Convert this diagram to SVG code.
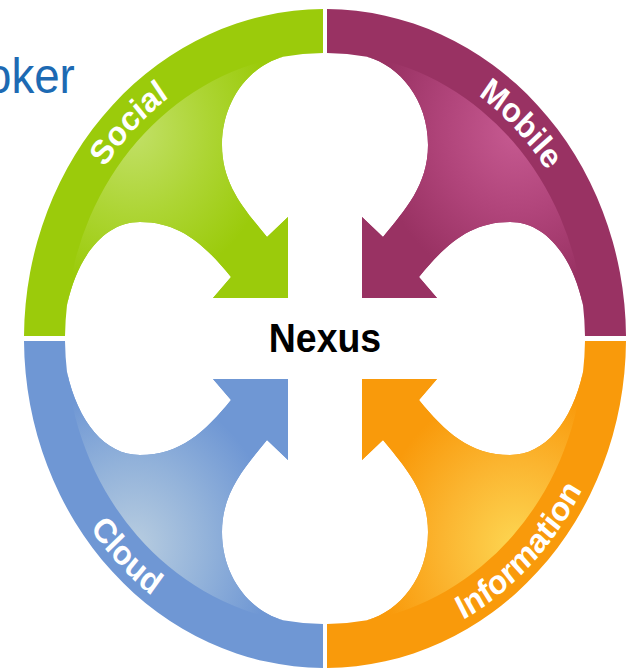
<svg xmlns="http://www.w3.org/2000/svg" xmlns:xlink="http://www.w3.org/1999/xlink" width="627" height="668" viewBox="0 0 627 668">
<defs>
<style>
.lbl{font-family:"Liberation Sans",Arial,sans-serif;font-weight:bold;font-size:34px;fill:#ffffff}
.ttl{font-family:"Liberation Sans",Arial,sans-serif;font-size:50px;fill:#1D6AB3}
.hub{font-family:"Liberation Sans",Arial,sans-serif;font-weight:bold;font-size:41px;fill:#000000}
</style>
<path id="quad" d="M24,336 A301,329.5 0 0 1 323,9 L323,53 A260,285.5 0 0 0 283,56.75 C250,66 222,100 222,145 C222,185 245,210 267,237 L288,217 L288,298 L213,298 L231,277 C205,245 180,222 140,222 C105,222 78,255 67,305 A260,285.5 0 0 0 65,336 Z"/>
<path id="body" d="M283,56.75 C250,66 222,100 222,145 C222,185 245,210 267,237 L288,217 L288,298 L213,298 L231,277 C205,245 180,222 140,222 C105,222 78,255 67,305 A260,285.5 0 0 1 283,56.75 Z"/>
<path id="tTL" d="M29.7,338.5 A295.3,295.3 0 0 1 325,43.2"/>
<path id="tTR" d="M325,43.2 A295.3,295.3 0 0 1 620.3,338.5"/>
<path id="tBL" d="M5.4,338.5 A319.6,319.6 0 0 0 325,658.1"/>
<path id="tBR" d="M325,658.1 A319.6,319.6 0 0 0 644.6,338.5"/>
<radialGradient id="gGreen" cx="0.3" cy="0.3" r="0.75">
<stop offset="0" stop-color="#C2E068"/><stop offset="0.45" stop-color="#ADD534"/><stop offset="0.85" stop-color="#9BCB0B"/>
</radialGradient>
<radialGradient id="gPurple" cx="0.3" cy="0.3" r="0.75">
<stop offset="0" stop-color="#C65A91"/><stop offset="0.45" stop-color="#B0447A"/><stop offset="0.85" stop-color="#993263"/>
</radialGradient>
<radialGradient id="gBlue" cx="0.3" cy="0.3" r="0.75">
<stop offset="0" stop-color="#B8CDE0"/><stop offset="0.45" stop-color="#92B2DA"/><stop offset="0.85" stop-color="#6F97D4"/>
</radialGradient>
<radialGradient id="gOrange" cx="0.3" cy="0.3" r="0.75">
<stop offset="0" stop-color="#FDD652"/><stop offset="0.45" stop-color="#FBB530"/><stop offset="0.85" stop-color="#F99A0B"/>
</radialGradient>
</defs>
<rect width="627" height="668" fill="#ffffff"/>
<text class="ttl" transform="translate(-14,93) scale(0.9135,1)">oker</text>
<g id="connectors"></g>
<g id="social">
<use xlink:href="#quad" href="#quad" fill="#9BCB0B"/>
<use xlink:href="#body" href="#body" fill="url(#gGreen)"/>
<text class="lbl" transform="matrix(0.9135 0 0 1 28.11 0)"><textPath xlink:href="#tTL" href="#tTL" startOffset="50%" text-anchor="middle">Social</textPath></text>
</g>
<g id="mobile">
<g transform="matrix(-1 0 0 1 650 0)">
<use xlink:href="#quad" href="#quad" fill="#993263"/>
<use xlink:href="#body" href="#body" fill="url(#gPurple)"/>
</g>
<text class="lbl" transform="matrix(0.9135 0 0 1 28.11 0)"><textPath xlink:href="#tTR" href="#tTR" startOffset="50%" text-anchor="middle">Mobile</textPath></text>
</g>
<g id="cloud">
<g transform="matrix(1 0 0 -1 0 677)">
<use xlink:href="#quad" href="#quad" fill="#6F97D4"/>
<use xlink:href="#body" href="#body" fill="url(#gBlue)"/>
</g>
<text class="lbl" transform="matrix(0.9135 0 0 1 28.11 0)"><textPath xlink:href="#tBL" href="#tBL" startOffset="50%" text-anchor="middle">Cloud</textPath></text>
</g>
<g id="information">
<g transform="matrix(-1 0 0 -1 650 677)">
<use xlink:href="#quad" href="#quad" fill="#F99A0B"/>
<use xlink:href="#body" href="#body" fill="url(#gOrange)"/>
</g>
<text class="lbl" transform="matrix(0.9135 0 0 1 28.11 0)"><textPath xlink:href="#tBR" href="#tBR" startOffset="50%" text-anchor="middle">Information</textPath></text>
</g>
<g id="nexus">
<text class="hub" text-anchor="middle" transform="translate(325,352) scale(0.9135,1)">Nexus</text>
</g>
</svg>
